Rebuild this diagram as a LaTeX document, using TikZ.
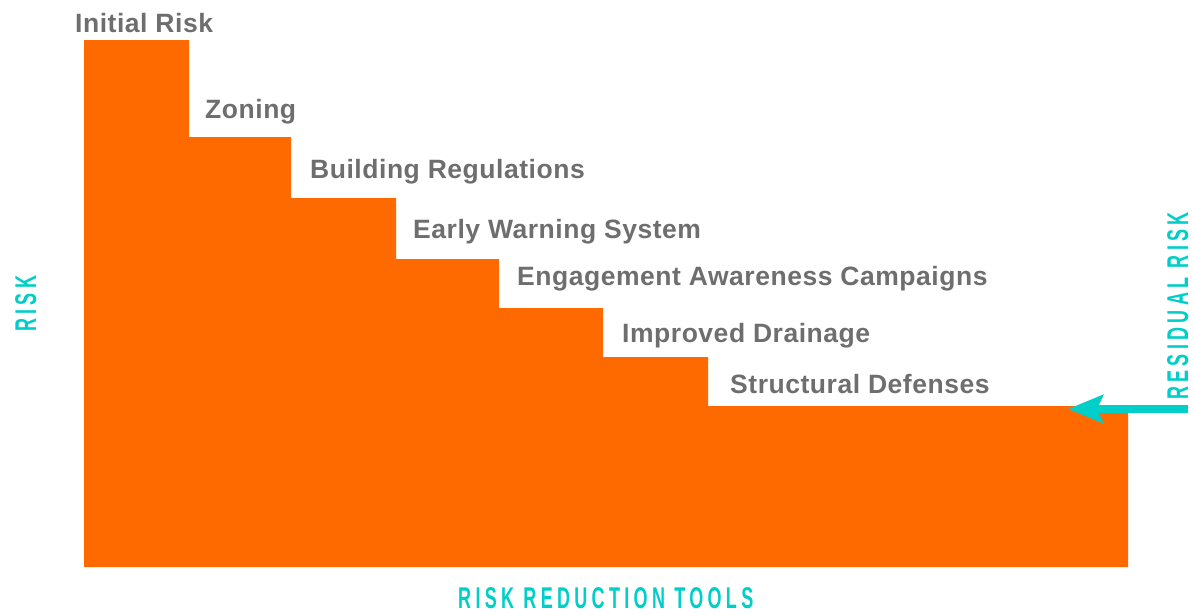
\documentclass[tikz,border=0pt]{standalone}
\usepackage{fontspec}
\usetikzlibrary{arrows.meta}
\newfontfamily\lblfont{Liberation Sans}[LetterSpace=2]
\newfontfamily\axfont{Liberation Sans}[LetterSpace=24]
\definecolor{riskorange}{RGB}{255,106,0}
\definecolor{lblgray}{RGB}{110,110,110}
\definecolor{teal}{RGB}{0,206,200}
\newcommand{\axtext}[1]{\scalebox{0.6}[1]{\axfont\bfseries\fontsize{30}{32}\selectfont #1}}
\tikzset{
  steplabel/.style={anchor=base west, inner sep=0pt, text=lblgray,
    font=\lblfont\bfseries\fontsize{26.5}{30}\selectfont},
  axislabel/.style={anchor=base west, inner sep=0pt, text=teal},
}
\begin{document}
\begin{tikzpicture}[x=1pt,y=-1pt]
\useasboundingbox (0,0) rectangle (1193,614);
% staircase
\fill[riskorange] (84,40) -- (189,40) -- (189,137) -- (291,137) -- (291,198)
  -- (396,198) -- (396,259) -- (499,259) -- (499,308) -- (603,308) -- (603,357)
  -- (708,357) -- (708,406) -- (1128,406) -- (1128,567) -- (84,567) -- cycle;
% step labels
\node[steplabel] (l0) at (75,32) {Initial Risk};
\node[steplabel] (l1) at (205,118) {Zoning};
\node[steplabel] (l2) at (310,178) {Building Regulations};
\node[steplabel] (l3) at (413,238) {Early Warning System};
\node[steplabel] (l4) at (517,285) {Engagement Awareness Campaigns};
\node[steplabel] (l5) at (622,342) {Improved Drainage};
\node[steplabel] (l6) at (730,393) {Structural Defenses};
% axis labels
\node[axislabel] (xlab) at (458,608) {\axtext{RISK REDUCTION TOOLS}};
\node[axislabel, rotate=90] (ylab) at (36,332) {\axtext{RISK}};
\node[axislabel, rotate=90] (rlab) at (1188,400) {\axtext{RESIDUAL RISK}};
% arrow
\coordinate (astart) at (1188,409);
\coordinate (aend) at (1068,409);
\draw[teal, line width=8pt, -{Stealth[length=35pt,width=28pt,inset=6pt]}] (astart) -- (aend);
\end{tikzpicture}
\end{document}
